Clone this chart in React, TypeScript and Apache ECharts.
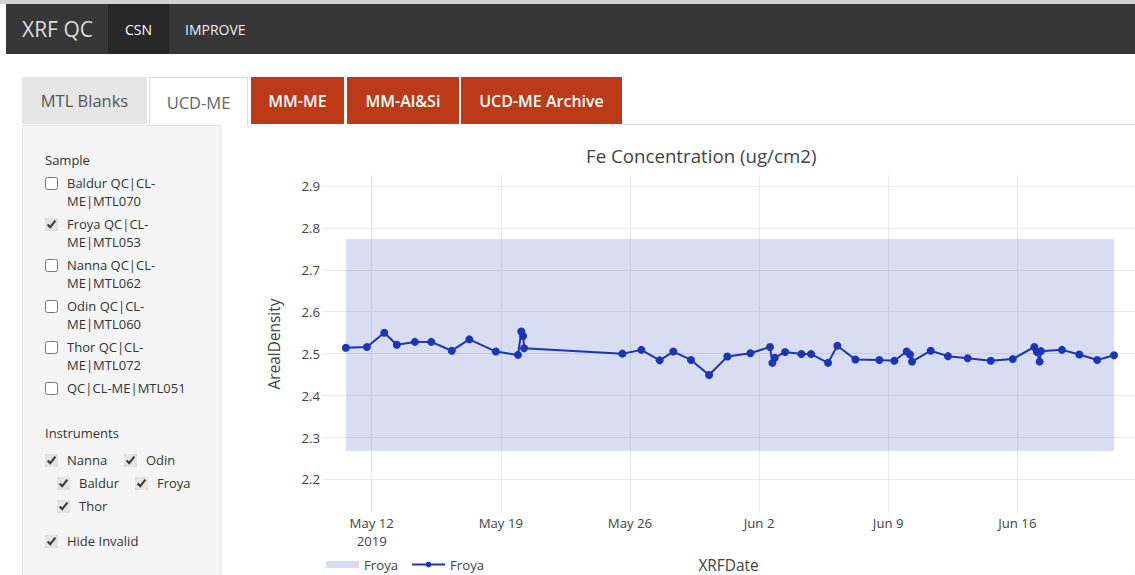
import React, { useEffect, useRef } from 'react';
import * as echarts from 'echarts';

const FONT = '"Open Sans", "Noto Sans", sans-serif';

// ---- chart data ----
const pointDates = [
  '2019-05-10 14:24', '2019-05-11 17:45', '2019-05-12 16:19', '2019-05-13 08:38', '2019-05-14 08:10',
  '2019-05-15 05:31', '2019-05-16 08:10', '2019-05-17 06:58', '2019-05-18 17:31', '2019-05-19 22:20',
  '2019-05-20 02:40', '2019-05-20 05:00', '2019-05-20 06:15', '2019-05-25 14:10', '2019-05-26 14:50',
  '2019-05-27 14:40', '2019-05-28 08:25', '2019-05-29 07:25', '2019-05-30 06:55', '2019-05-31 06:40',
  '2019-06-01 12:40', '2019-06-02 14:10', '2019-06-02 17:15', '2019-06-02 20:25', '2019-06-03 09:50',
  '2019-06-04 07:00', '2019-06-04 19:40', '2019-06-05 17:45', '2019-06-06 05:45', '2019-06-07 05:15',
  '2019-06-08 12:30', '2019-06-09 07:55', '2019-06-10 00:00', '2019-06-10 04:20', '2019-06-10 07:00',
  '2019-06-11 07:15', '2019-06-12 05:45', '2019-06-13 07:25', '2019-06-14 13:25', '2019-06-15 18:00',
  '2019-06-16 22:05', '2019-06-17 01:25', '2019-06-17 05:00', '2019-06-17 06:45', '2019-06-18 10:05',
  '2019-06-19 08:40', '2019-06-20 07:55', '2019-06-21 05:45',
];
const pointValues = [
  2.514, 2.516, 2.550, 2.521, 2.528,
  2.528, 2.507, 2.534, 2.505, 2.497,
  2.553, 2.542, 2.513, 2.500, 2.509,
  2.484, 2.505, 2.485, 2.449, 2.493,
  2.501, 2.516, 2.478, 2.490, 2.504,
  2.499, 2.499, 2.478, 2.519, 2.486,
  2.485, 2.483, 2.505, 2.498, 2.481,
  2.507, 2.494, 2.489, 2.483, 2.487,
  2.516, 2.504, 2.481, 2.506, 2.509,
  2.498, 2.485, 2.496,
];
const bandStart = '2019-05-10 14:24';
const bandEnd = '2019-06-21 05:45';
const bandLow = 2.268;
const bandHigh = 2.773;
const xTickDates = ['2019-05-12 00:00', '2019-05-19 00:00', '2019-05-26 00:00', '2019-06-02 00:00', '2019-06-09 00:00', '2019-06-16 00:00'];
const xTickLabels = ['May 12\n2019', 'May 19', 'May 26', 'Jun 2', 'Jun 9', 'Jun 16'];
const yTicks = [2.2, 2.3, 2.4, 2.5, 2.6, 2.7, 2.8, 2.9];
const xMin = '2019-05-09 07:20';
const xMax = '2019-06-22 09:05';
const yMin = 2.12;
const yMax = 2.926;

const ts = (s: string) => new Date(s.replace(' ', 'T')).getTime();

const LINE_COLOR = '#1c35b5';
const BAND_COLOR = 'rgba(31,54,180,0.17)';

// ---- UI texts ----
const sampleItems = [
  { lines: ['Baldur QC|CL-', 'ME|MTL070'], checked: false, y: 183 },
  { lines: ['Froya QC|CL-', 'ME|MTL053'], checked: true, y: 224 },
  { lines: ['Nanna QC|CL-', 'ME|MTL062'], checked: false, y: 265 },
  { lines: ['Odin QC|CL-', 'ME|MTL060'], checked: false, y: 306 },
  { lines: ['Thor QC|CL-', 'ME|MTL072'], checked: false, y: 347 },
  { lines: ['QC|CL-ME|MTL051'], checked: false, y: 388 },
];
const instrumentItems = [
  { label: 'Nanna', x: 45, y: 460 },
  { label: 'Odin', x: 124, y: 460 },
  { label: 'Baldur', x: 57, y: 483 },
  { label: 'Froya', x: 135, y: 483 },
  { label: 'Thor', x: 57, y: 506 },
];
const tabs = [
  { label: 'MTL Blanks', x: 22, w: 125, kind: 'gray' },
  { label: 'UCD-ME', x: 149, w: 99, kind: 'active' },
  { label: 'MM-ME', x: 251, w: 93, kind: 'red' },
  { label: 'MM-Al&Si', x: 347, w: 112, kind: 'red' },
  { label: 'UCD-ME Archive', x: 461, w: 161, kind: 'red' },
];

function Txt(props: { x: number; cy: number; size: number; color: string; weight?: number; children: any }) {
  const h = Math.round(props.size * 1.5);
  return (
    <div
      style={{
        position: 'absolute',
        left: props.x,
        top: props.cy - h / 2,
        height: h,
        lineHeight: h + 'px',
        fontSize: props.size,
        color: props.color,
        fontWeight: props.weight || 400,
        whiteSpace: 'nowrap',
      }}
    >
      {props.children}
    </div>
  );
}

function Box(props: { x: number; cy: number; checked: boolean }) {
  return (
    <input
      type="checkbox"
      defaultChecked={props.checked}
      style={{
        position: 'absolute',
        left: props.x,
        top: props.cy - 6.5,
        width: 13,
        height: 13,
        margin: 0,
        accentColor: '#e4e4e4',
      }}
    />
  );
}

function Chart() {
  const ref = useRef<HTMLDivElement>(null);
  useEffect(() => {
    if (!ref.current) return;
    const chart = echarts.init(ref.current, null, { renderer: 'svg' });
    const xTickTs = xTickDates.map(ts);
    const lineData = pointDates.map((d, i) => [ts(d), pointValues[i]]);
    chart.setOption({
      animation: false,
      textStyle: { fontFamily: FONT },
      title: {
        text: 'Fe Concentration (ug/cm2)',
        left: 346,
        top: 16,
        padding: 0,
        textStyle: { fontFamily: FONT, fontSize: 18.7, fontWeight: 'normal', color: '#444' },
      },
      legend: {
        left: 86,
        top: 428,
        padding: 0,
        itemWidth: 33,
        itemHeight: 7,
        itemGap: 13,
        selectedMode: false,
        data: [{ name: 'band', icon: 'rect' }, { name: 'line' }],
        formatter: () => 'Froya',
        textStyle: { fontFamily: FONT, fontSize: 13.2, color: '#444' },
      },
      grid: { left: 82, right: 0, top: 45, bottom: 62, containLabel: false, outerBoundsMode: 'none' },
      xAxis: {
        type: 'value',
        min: ts(xMin),
        max: ts(xMax),
        name: 'XRFDate',
        nameLocation: 'middle',
        nameGap: 45,
        nameTextStyle: { fontFamily: FONT, fontSize: 15.4, color: '#444' },
        axisLine: { show: false },
        axisTick: { show: false, customValues: xTickTs },
        axisLabel: {
          customValues: xTickTs,
          fontFamily: FONT,
          fontSize: 13.2,
          color: '#444',
          lineHeight: 18,
          margin: 1,
          formatter: (v: number) => {
            const i = xTickTs.indexOf(v);
            return i >= 0 ? xTickLabels[i] : '';
          },
        },
        splitLine: { show: true, lineStyle: { color: '#eaeaea', width: 1 } },
      },
      yAxis: {
        type: 'value',
        min: yMin,
        max: yMax,
        name: 'ArealDensity',
        nameLocation: 'middle',
        nameRotate: 90,
        nameGap: 40,
        nameTextStyle: { fontFamily: FONT, fontSize: 15.4, color: '#444' },
        axisLine: { show: false },
        axisTick: { show: false, customValues: yTicks },
        axisLabel: {
          customValues: yTicks,
          fontFamily: FONT,
          fontSize: 13.2,
          color: '#444',
          margin: 2,
          formatter: (v: number) => v.toFixed(1),
        },
        splitLine: { show: true, lineStyle: { color: '#eaeaea', width: 1 } },
      },
      series: [
        {
          name: 'band',
          type: 'custom',
          itemStyle: { color: BAND_COLOR },
          encode: { x: [0, 1], y: [2, 3] },
          data: [[ts(bandStart), ts(bandEnd), bandLow, bandHigh]],
          renderItem: (params: any, api: any) => {
            const p1 = api.coord([api.value(0), api.value(3)]);
            const p2 = api.coord([api.value(1), api.value(2)]);
            return {
              type: 'rect',
              shape: { x: p1[0], y: p1[1], width: p2[0] - p1[0], height: p2[1] - p1[1] },
              style: { fill: BAND_COLOR },
            };
          },
          z: 1,
        },
        {
          name: 'line',
          type: 'line',
          data: lineData,
          symbol: 'circle',
          symbolSize: 8,
          showSymbol: true,
          lineStyle: { color: LINE_COLOR, width: 2 },
          itemStyle: { color: LINE_COLOR },
          z: 3,
        },
      ],
    });
    return () => chart.dispose();
  }, []);
  return <div ref={ref} style={{ position: 'absolute', left: 240, top: 130, width: 895, height: 445 }} />;
}

export default function App() {
  return (
    <div
      style={{
        position: 'fixed',
        left: 0,
        top: 0,
        width: 1135,
        height: 575,
        overflow: 'hidden',
        background: '#fff',
        fontFamily: FONT,
      }}
    >
      {/* top strip */}
      <div style={{ position: 'absolute', left: 0, top: 0, width: 1135, height: 4, background: '#d2d2d2' }} />
      {/* navbar */}
      <div style={{ position: 'absolute', left: 6, top: 4, width: 1129, height: 50, background: '#373737' }} />
      <div style={{ position: 'absolute', left: 108, top: 4, width: 61, height: 50, background: '#272727' }} />
      <Txt x={22} cy={29} size={21} color="#dddddd">XRF QC</Txt>
      <Txt x={125} cy={29} size={14} color="#ffffff">CSN</Txt>
      <Txt x={185} cy={29} size={14} color="#eeeeee">IMPROVE</Txt>

      {/* tabs */}
      <div style={{ position: 'absolute', left: 622, top: 124, width: 513, height: 1, background: '#dddddd' }} />
      {tabs.map((t) => {
        const base: any = {
          position: 'absolute',
          left: t.x,
          top: 77,
          width: t.w,
          height: 47,
          display: 'flex',
          alignItems: 'center',
          justifyContent: 'center',
          fontSize: 16.5,
          boxSizing: 'border-box',
          whiteSpace: 'nowrap',
        };
        if (t.kind === 'gray') {
          Object.assign(base, { background: '#e6e6e6', color: '#555' });
        } else if (t.kind === 'active') {
          Object.assign(base, {
            background: '#fff',
            color: '#666',
            borderTop: '1px solid #ddd',
            borderLeft: '1px solid #ddd',
            borderRight: '1px solid #ddd',
            height: 49,
          });
        } else {
          Object.assign(base, { background: '#bc3a17', color: '#fff', fontWeight: 600, fontSize: 16 });
        }
        return (
          <div key={t.label} style={base}>
            {t.label}
          </div>
        );
      })}

      {/* sidebar */}
      <div
        style={{
          position: 'absolute',
          left: 22,
          top: 125,
          width: 199,
          height: 470,
          background: '#f5f5f5',
          border: '1px solid #e3e3e3',
          boxSizing: 'border-box',
        }}
      />
      <Txt x={45} cy={160} size={13} color="#333">Sample</Txt>
      {sampleItems.map((s) => (
        <React.Fragment key={s.lines.join('')}>
          <Box x={45} cy={s.y} checked={s.checked} />
          {s.lines.map((l, i) => (
            <Txt key={l} x={67} cy={s.y + i * 18} size={13} color="#333">
              {l}
            </Txt>
          ))}
        </React.Fragment>
      ))}
      <Txt x={45} cy={433} size={13} color="#333">Instruments</Txt>
      {instrumentItems.map((it) => (
        <React.Fragment key={it.label}>
          <Box x={it.x} cy={it.y} checked={true} />
          <Txt x={it.x + 22} cy={it.y} size={13} color="#333">
            {it.label}
          </Txt>
        </React.Fragment>
      ))}
      <Box x={45} cy={541} checked={true} />
      <Txt x={67} cy={541} size={13} color="#333">Hide Invalid</Txt>

      <Chart />
    </div>
  );
}
